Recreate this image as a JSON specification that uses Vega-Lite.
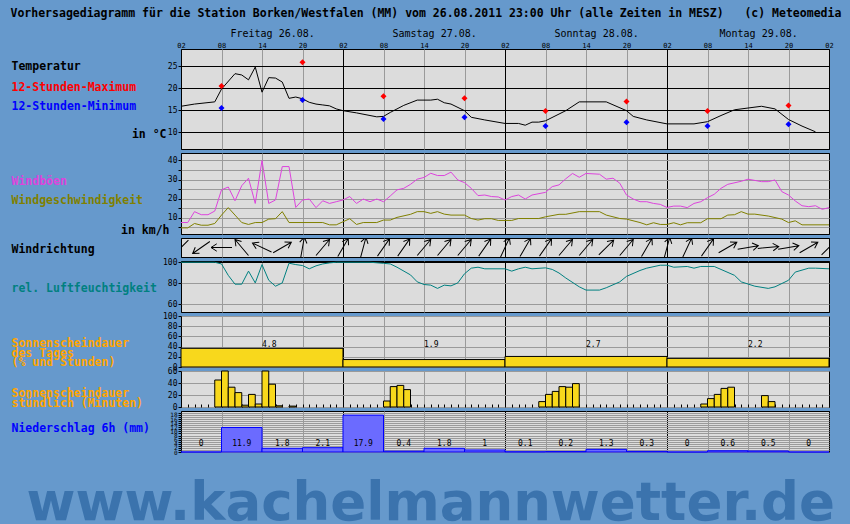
{
"$schema": "https://vega.github.io/schema/vega-lite/v6.json",
"background": "#6699cc",
"padding": {"left": 10, "top": 8, "right": 22, "bottom": 10},
"title": {"text": "Vorhersagediagramm für die Station Borken/Westfalen (MM) vom 26.08.2011 23:00 Uhr (alle Zeiten in MESZ)\u00a0\u00a0\u00a0(c) Meteomedia", "anchor": "start", "font": "DejaVu Sans Mono", "fontSize": 11.5, "fontWeight": "bold", "color": "black", "offset": 8},
"datasets": {
"temperatur": [
{"t":"2011-08-26T02:00Z","v":15.9},{"t":"2011-08-26T04:00Z","v":16.4},{"t":"2011-08-26T07:00Z","v":16.9},{"t":"2011-08-26T08:00Z","v":19.8},{"t":"2011-08-26T10:00Z","v":23.3},{"t":"2011-08-26T11:00Z","v":23.0},{"t":"2011-08-26T12:00Z","v":21.9},{"t":"2011-08-26T13:00Z","v":24.8},{"t":"2011-08-26T14:00Z","v":19.1},{"t":"2011-08-26T15:00Z","v":22.4},{"t":"2011-08-26T16:00Z","v":22.3},{"t":"2011-08-26T17:00Z","v":21.4},{"t":"2011-08-26T18:00Z","v":17.7},{"t":"2011-08-26T19:00Z","v":18.0},{"t":"2011-08-26T20:00Z","v":17.6},{"t":"2011-08-26T21:00Z","v":16.8},{"t":"2011-08-26T22:00Z","v":16.4},{"t":"2011-08-26T23:00Z","v":16.2},{"t":"2011-08-27T00:00Z","v":16.0},{"t":"2011-08-27T01:00Z","v":15.3},{"t":"2011-08-27T02:00Z","v":14.9},{"t":"2011-08-27T04:00Z","v":14.4},{"t":"2011-08-27T07:00Z","v":13.5},{"t":"2011-08-27T08:00Z","v":13.6},{"t":"2011-08-27T09:00Z","v":14.5},{"t":"2011-08-27T11:00Z","v":16.1},{"t":"2011-08-27T13:00Z","v":17.3},{"t":"2011-08-27T15:00Z","v":17.3},{"t":"2011-08-27T16:00Z","v":17.5},{"t":"2011-08-27T17:00Z","v":16.7},{"t":"2011-08-27T18:00Z","v":16.4},{"t":"2011-08-27T20:00Z","v":14.9},{"t":"2011-08-27T21:00Z","v":13.4},{"t":"2011-08-27T23:00Z","v":12.8},{"t":"2011-08-28T02:00Z","v":12.0},{"t":"2011-08-28T04:00Z","v":12.0},{"t":"2011-08-28T05:00Z","v":11.6},{"t":"2011-08-28T06:00Z","v":12.3},{"t":"2011-08-28T07:00Z","v":12.3},{"t":"2011-08-28T08:00Z","v":12.6},{"t":"2011-08-28T11:00Z","v":14.9},{"t":"2011-08-28T13:00Z","v":16.9},{"t":"2011-08-28T17:00Z","v":16.9},{"t":"2011-08-28T20:00Z","v":14.9},{"t":"2011-08-28T21:00Z","v":13.6},{"t":"2011-08-28T23:00Z","v":12.8},{"t":"2011-08-29T02:00Z","v":11.9},{"t":"2011-08-29T06:00Z","v":11.9},{"t":"2011-08-29T08:00Z","v":12.4},{"t":"2011-08-29T10:00Z","v":13.8},{"t":"2011-08-29T12:00Z","v":15.1},{"t":"2011-08-29T14:00Z","v":15.5},{"t":"2011-08-29T16:00Z","v":15.9},{"t":"2011-08-29T18:00Z","v":15.3},{"t":"2011-08-29T20:00Z","v":12.9},{"t":"2011-08-29T22:00Z","v":11.4},{"t":"2011-08-30T00:00Z","v":10.1}
],
"extreme": [
{"t":"2011-08-26T08:00Z","max":20.5,"min":15.5},{"t":"2011-08-26T20:00Z","max":25.9,"min":17.3},{"t":"2011-08-27T08:00Z","max":18.2,"min":13.0},{"t":"2011-08-27T20:00Z","max":17.7,"min":13.4},{"t":"2011-08-28T08:00Z","max":14.8,"min":11.4},{"t":"2011-08-28T20:00Z","max":17.0,"min":12.3},{"t":"2011-08-29T08:00Z","max":14.8,"min":11.4},{"t":"2011-08-29T20:00Z","max":16.1,"min":11.8}
],
"boeen": [
{"t":"2011-08-26T02:00Z","v":7.5},{"t":"2011-08-26T03:00Z","v":7.5},{"t":"2011-08-26T04:00Z","v":13.2},{"t":"2011-08-26T05:00Z","v":11.6},{"t":"2011-08-26T06:00Z","v":11.6},{"t":"2011-08-26T07:00Z","v":13.5},{"t":"2011-08-26T08:00Z","v":24.6},{"t":"2011-08-26T09:00Z","v":26.1},{"t":"2011-08-26T10:00Z","v":18.9},{"t":"2011-08-26T11:00Z","v":26.8},{"t":"2011-08-26T12:00Z","v":30.7},{"t":"2011-08-26T13:00Z","v":17.5},{"t":"2011-08-26T14:00Z","v":40},{"t":"2011-08-26T15:00Z","v":17.5},{"t":"2011-08-26T16:00Z","v":19.3},{"t":"2011-08-26T17:00Z","v":36.8},{"t":"2011-08-26T18:00Z","v":36.8},{"t":"2011-08-26T19:00Z","v":15.4},{"t":"2011-08-26T20:00Z","v":19.3},{"t":"2011-08-26T21:00Z","v":19.8},{"t":"2011-08-26T22:00Z","v":15.3},{"t":"2011-08-26T23:00Z","v":18.9},{"t":"2011-08-27T00:00Z","v":17.5},{"t":"2011-08-27T01:00Z","v":18.4},{"t":"2011-08-27T02:00Z","v":19.3},{"t":"2011-08-27T03:00Z","v":21.1},{"t":"2011-08-27T04:00Z","v":17.5},{"t":"2011-08-27T05:00Z","v":19.8},{"t":"2011-08-27T06:00Z","v":18.4},{"t":"2011-08-27T07:00Z","v":19.8},{"t":"2011-08-27T08:00Z","v":18.4},{"t":"2011-08-27T09:00Z","v":21.4},{"t":"2011-08-27T10:00Z","v":24.6},{"t":"2011-08-27T11:00Z","v":25.4},{"t":"2011-08-27T12:00Z","v":27.5},{"t":"2011-08-27T13:00Z","v":30.2},{"t":"2011-08-27T14:00Z","v":31.1},{"t":"2011-08-27T15:00Z","v":33.3},{"t":"2011-08-27T16:00Z","v":32.1},{"t":"2011-08-27T17:00Z","v":32.1},{"t":"2011-08-27T18:00Z","v":33.9},{"t":"2011-08-27T19:00Z","v":29.8},{"t":"2011-08-27T20:00Z","v":28.4},{"t":"2011-08-27T21:00Z","v":25.4},{"t":"2011-08-27T22:00Z","v":21.6},{"t":"2011-08-27T23:00Z","v":21.9},{"t":"2011-08-28T00:00Z","v":21.1},{"t":"2011-08-28T01:00Z","v":20.9},{"t":"2011-08-28T02:00Z","v":19.3},{"t":"2011-08-28T03:00Z","v":21.1},{"t":"2011-08-28T04:00Z","v":21.9},{"t":"2011-08-28T05:00Z","v":19.8},{"t":"2011-08-28T06:00Z","v":21.9},{"t":"2011-08-28T08:00Z","v":23.3},{"t":"2011-08-28T09:00Z","v":26.3},{"t":"2011-08-28T10:00Z","v":27.2},{"t":"2011-08-28T11:00Z","v":30.4},{"t":"2011-08-28T12:00Z","v":33.2},{"t":"2011-08-28T13:00Z","v":31.2},{"t":"2011-08-28T14:00Z","v":33.2},{"t":"2011-08-28T16:00Z","v":32.8},{"t":"2011-08-28T17:00Z","v":30.2},{"t":"2011-08-28T18:00Z","v":30.7},{"t":"2011-08-28T19:00Z","v":28.1},{"t":"2011-08-28T20:00Z","v":21.9},{"t":"2011-08-28T21:00Z","v":19.8},{"t":"2011-08-28T22:00Z","v":18.4},{"t":"2011-08-28T23:00Z","v":18.4},{"t":"2011-08-29T00:00Z","v":17.5},{"t":"2011-08-29T01:00Z","v":17.0},{"t":"2011-08-29T02:00Z","v":15.4},{"t":"2011-08-29T03:00Z","v":16.1},{"t":"2011-08-29T04:00Z","v":16.1},{"t":"2011-08-29T05:00Z","v":15.3},{"t":"2011-08-29T06:00Z","v":17.5},{"t":"2011-08-29T07:00Z","v":18.4},{"t":"2011-08-29T08:00Z","v":20.5},{"t":"2011-08-29T09:00Z","v":22.3},{"t":"2011-08-29T10:00Z","v":25.4},{"t":"2011-08-29T11:00Z","v":27.5},{"t":"2011-08-29T13:00Z","v":29.1},{"t":"2011-08-29T14:00Z","v":30.2},{"t":"2011-08-29T16:00Z","v":28.9},{"t":"2011-08-29T17:00Z","v":28.9},{"t":"2011-08-29T18:00Z","v":29.8},{"t":"2011-08-29T19:00Z","v":23.7},{"t":"2011-08-29T20:00Z","v":21.9},{"t":"2011-08-29T21:00Z","v":18.8},{"t":"2011-08-29T22:00Z","v":16.3},{"t":"2011-08-29T23:00Z","v":15.8},{"t":"2011-08-30T00:00Z","v":16.3},{"t":"2011-08-30T01:00Z","v":14.4},{"t":"2011-08-30T02:00Z","v":15.3}
],
"wind": [
{"t":"2011-08-26T02:00Z","v":4.7},{"t":"2011-08-26T03:00Z","v":4.7},{"t":"2011-08-26T04:00Z","v":7.0},{"t":"2011-08-26T05:00Z","v":6.1},{"t":"2011-08-26T06:00Z","v":6.1},{"t":"2011-08-26T07:00Z","v":7.0},{"t":"2011-08-26T08:00Z","v":11.4},{"t":"2011-08-26T09:00Z","v":15.3},{"t":"2011-08-26T10:00Z","v":11.4},{"t":"2011-08-26T11:00Z","v":7.5},{"t":"2011-08-26T12:00Z","v":6.5},{"t":"2011-08-26T13:00Z","v":7.5},{"t":"2011-08-26T14:00Z","v":7.5},{"t":"2011-08-26T15:00Z","v":9.3},{"t":"2011-08-26T16:00Z","v":9.5},{"t":"2011-08-26T17:00Z","v":13.2},{"t":"2011-08-26T18:00Z","v":7.5},{"t":"2011-08-26T23:00Z","v":7.5},{"t":"2011-08-27T00:00Z","v":6.3},{"t":"2011-08-27T01:00Z","v":6.3},{"t":"2011-08-27T02:00Z","v":7.9},{"t":"2011-08-27T03:00Z","v":9.5},{"t":"2011-08-27T04:00Z","v":6.5},{"t":"2011-08-27T05:00Z","v":7.5},{"t":"2011-08-27T07:00Z","v":7.5},{"t":"2011-08-27T08:00Z","v":8.8},{"t":"2011-08-27T09:00Z","v":8.8},{"t":"2011-08-27T10:00Z","v":10.2},{"t":"2011-08-27T12:00Z","v":11.8},{"t":"2011-08-27T13:00Z","v":13.2},{"t":"2011-08-27T14:00Z","v":13.2},{"t":"2011-08-27T15:00Z","v":12.3},{"t":"2011-08-27T16:00Z","v":13.2},{"t":"2011-08-27T17:00Z","v":11.9},{"t":"2011-08-27T18:00Z","v":11.4},{"t":"2011-08-27T20:00Z","v":11.4},{"t":"2011-08-27T21:00Z","v":9.6},{"t":"2011-08-27T22:00Z","v":8.8},{"t":"2011-08-27T23:00Z","v":9.5},{"t":"2011-08-28T00:00Z","v":9.5},{"t":"2011-08-28T01:00Z","v":8.6},{"t":"2011-08-28T03:00Z","v":8.6},{"t":"2011-08-28T04:00Z","v":9.6},{"t":"2011-08-28T07:00Z","v":9.6},{"t":"2011-08-28T08:00Z","v":10.5},{"t":"2011-08-28T10:00Z","v":11.8},{"t":"2011-08-28T11:00Z","v":11.8},{"t":"2011-08-28T13:00Z","v":13.2},{"t":"2011-08-28T16:00Z","v":13.2},{"t":"2011-08-28T17:00Z","v":11.4},{"t":"2011-08-28T19:00Z","v":9.6},{"t":"2011-08-28T20:00Z","v":9.3},{"t":"2011-08-28T22:00Z","v":7.5},{"t":"2011-08-28T23:00Z","v":6.3},{"t":"2011-08-29T00:00Z","v":7.4},{"t":"2011-08-29T01:00Z","v":6.5},{"t":"2011-08-29T02:00Z","v":6.5},{"t":"2011-08-29T03:00Z","v":7.4},{"t":"2011-08-29T04:00Z","v":6.3},{"t":"2011-08-29T05:00Z","v":7.4},{"t":"2011-08-29T07:00Z","v":7.4},{"t":"2011-08-29T08:00Z","v":9.5},{"t":"2011-08-29T10:00Z","v":9.5},{"t":"2011-08-29T11:00Z","v":11.4},{"t":"2011-08-29T12:00Z","v":11.6},{"t":"2011-08-29T13:00Z","v":13.2},{"t":"2011-08-29T14:00Z","v":11.9},{"t":"2011-08-29T15:00Z","v":11.9},{"t":"2011-08-29T17:00Z","v":10.9},{"t":"2011-08-29T19:00Z","v":9.3},{"t":"2011-08-29T20:00Z","v":7.5},{"t":"2011-08-29T21:00Z","v":8.4},{"t":"2011-08-29T22:00Z","v":6.3},{"t":"2011-08-30T02:00Z","v":6.3}
],
"richtung": [
{"t":"2011-08-26T02:00Z","dir":45},{"t":"2011-08-26T05:00Z","dir":55},{"t":"2011-08-26T08:00Z","dir":90},{"t":"2011-08-26T11:00Z","dir":140},{"t":"2011-08-26T14:00Z","dir":115},{"t":"2011-08-26T17:00Z","dir":240},{"t":"2011-08-26T20:00Z","dir":190},{"t":"2011-08-26T23:00Z","dir":220},{"t":"2011-08-27T02:00Z","dir":210},{"t":"2011-08-27T05:00Z","dir":195},{"t":"2011-08-27T08:00Z","dir":215},{"t":"2011-08-27T11:00Z","dir":215},{"t":"2011-08-27T14:00Z","dir":220},{"t":"2011-08-27T17:00Z","dir":220},{"t":"2011-08-27T20:00Z","dir":220},{"t":"2011-08-27T23:00Z","dir":215},{"t":"2011-08-28T02:00Z","dir":205},{"t":"2011-08-28T05:00Z","dir":210},{"t":"2011-08-28T08:00Z","dir":215},{"t":"2011-08-28T11:00Z","dir":220},{"t":"2011-08-28T14:00Z","dir":220},{"t":"2011-08-28T17:00Z","dir":225},{"t":"2011-08-28T20:00Z","dir":220},{"t":"2011-08-28T23:00Z","dir":210},{"t":"2011-08-29T02:00Z","dir":195},{"t":"2011-08-29T05:00Z","dir":205},{"t":"2011-08-29T08:00Z","dir":215},{"t":"2011-08-29T11:00Z","dir":240},{"t":"2011-08-29T14:00Z","dir":260},{"t":"2011-08-29T17:00Z","dir":265},{"t":"2011-08-29T20:00Z","dir":260},{"t":"2011-08-29T23:00Z","dir":240},{"t":"2011-08-30T02:00Z","dir":225}
],
"feuchte": [
{"t":"2011-08-26T02:00Z","v":100},{"t":"2011-08-26T07:00Z","v":100},{"t":"2011-08-26T08:00Z","v":98.4},{"t":"2011-08-26T09:00Z","v":87.6},{"t":"2011-08-26T10:00Z","v":79.2},{"t":"2011-08-26T11:00Z","v":79.2},{"t":"2011-08-26T12:00Z","v":91.6},{"t":"2011-08-26T13:00Z","v":80.4},{"t":"2011-08-26T14:00Z","v":97.8},{"t":"2011-08-26T15:00Z","v":82.9},{"t":"2011-08-26T16:00Z","v":77.3},{"t":"2011-08-26T17:00Z","v":80.4},{"t":"2011-08-26T18:00Z","v":99.1},{"t":"2011-08-26T19:00Z","v":97.8},{"t":"2011-08-26T20:00Z","v":96.9},{"t":"2011-08-26T21:00Z","v":93.8},{"t":"2011-08-26T22:00Z","v":96.6},{"t":"2011-08-26T23:00Z","v":98.4},{"t":"2011-08-27T00:00Z","v":99.4},{"t":"2011-08-27T01:00Z","v":100},{"t":"2011-08-27T06:00Z","v":100},{"t":"2011-08-27T08:00Z","v":99},{"t":"2011-08-27T09:00Z","v":98.4},{"t":"2011-08-27T10:00Z","v":95.3},{"t":"2011-08-27T12:00Z","v":88},{"t":"2011-08-27T13:00Z","v":81.4},{"t":"2011-08-27T14:00Z","v":78.9},{"t":"2011-08-27T15:00Z","v":78.3},{"t":"2011-08-27T16:00Z","v":75.2},{"t":"2011-08-27T17:00Z","v":78.3},{"t":"2011-08-27T18:00Z","v":77.6},{"t":"2011-08-27T19:00Z","v":80.4},{"t":"2011-08-27T20:00Z","v":89.1},{"t":"2011-08-27T21:00Z","v":94.4},{"t":"2011-08-27T22:00Z","v":95.3},{"t":"2011-08-27T23:00Z","v":93.8},{"t":"2011-08-28T02:00Z","v":93.8},{"t":"2011-08-28T03:00Z","v":91.6},{"t":"2011-08-28T04:00Z","v":93.8},{"t":"2011-08-28T05:00Z","v":95.3},{"t":"2011-08-28T06:00Z","v":93.8},{"t":"2011-08-28T08:00Z","v":94.7},{"t":"2011-08-28T09:00Z","v":93.2},{"t":"2011-08-28T10:00Z","v":89.8},{"t":"2011-08-28T11:00Z","v":85.1},{"t":"2011-08-28T13:00Z","v":76.7},{"t":"2011-08-28T14:00Z","v":73.6},{"t":"2011-08-28T16:00Z","v":73.6},{"t":"2011-08-28T17:00Z","v":75.8},{"t":"2011-08-28T19:00Z","v":81.4},{"t":"2011-08-28T20:00Z","v":86.6},{"t":"2011-08-28T22:00Z","v":92.2},{"t":"2011-08-28T23:00Z","v":94.4},{"t":"2011-08-29T01:00Z","v":97.2},{"t":"2011-08-29T02:00Z","v":97.2},{"t":"2011-08-29T03:00Z","v":95.3},{"t":"2011-08-29T05:00Z","v":96.0},{"t":"2011-08-29T06:00Z","v":94.4},{"t":"2011-08-29T07:00Z","v":96.0},{"t":"2011-08-29T09:00Z","v":96.0},{"t":"2011-08-29T10:00Z","v":93.2},{"t":"2011-08-29T12:00Z","v":87.6},{"t":"2011-08-29T13:00Z","v":81.4},{"t":"2011-08-29T15:00Z","v":77.3},{"t":"2011-08-29T17:00Z","v":75.2},{"t":"2011-08-29T18:00Z","v":76.7},{"t":"2011-08-29T20:00Z","v":82.9},{"t":"2011-08-29T21:00Z","v":90.7},{"t":"2011-08-29T23:00Z","v":94.4},{"t":"2011-08-30T00:00Z","v":94.4},{"t":"2011-08-30T02:00Z","v":93.8}
],
"sonne_tag": [
{"von":"2011-08-26T02:00Z","bis":"2011-08-27T02:00Z","pct":36.6,"std":4.8},{"von":"2011-08-27T02:00Z","bis":"2011-08-28T02:00Z","pct":14.6,"std":1.9},{"von":"2011-08-28T02:00Z","bis":"2011-08-29T02:00Z","pct":20.7,"std":2.7},{"von":"2011-08-29T02:00Z","bis":"2011-08-30T02:00Z","pct":16.9,"std":2.2}
],
"sonne_std": [
{"von":"2011-08-26T07:00Z","bis":"2011-08-26T08:00Z","min":45},{"von":"2011-08-26T08:00Z","bis":"2011-08-26T09:00Z","min":60},{"von":"2011-08-26T09:00Z","bis":"2011-08-26T10:00Z","min":33},{"von":"2011-08-26T10:00Z","bis":"2011-08-26T11:00Z","min":24},{"von":"2011-08-26T11:00Z","bis":"2011-08-26T12:00Z","min":3},{"von":"2011-08-26T12:00Z","bis":"2011-08-26T13:00Z","min":21},{"von":"2011-08-26T13:00Z","bis":"2011-08-26T14:00Z","min":5},{"von":"2011-08-26T14:00Z","bis":"2011-08-26T15:00Z","min":60},{"von":"2011-08-26T15:00Z","bis":"2011-08-26T16:00Z","min":38},{"von":"2011-08-26T16:00Z","bis":"2011-08-26T17:00Z","min":2},{"von":"2011-08-26T18:00Z","bis":"2011-08-26T19:00Z","min":1.5},
{"von":"2011-08-27T08:00Z","bis":"2011-08-27T09:00Z","min":10},{"von":"2011-08-27T09:00Z","bis":"2011-08-27T10:00Z","min":34},{"von":"2011-08-27T10:00Z","bis":"2011-08-27T11:00Z","min":36},{"von":"2011-08-27T11:00Z","bis":"2011-08-27T12:00Z","min":29},
{"von":"2011-08-28T07:00Z","bis":"2011-08-28T08:00Z","min":9},{"von":"2011-08-28T08:00Z","bis":"2011-08-28T09:00Z","min":21},{"von":"2011-08-28T09:00Z","bis":"2011-08-28T10:00Z","min":26},{"von":"2011-08-28T10:00Z","bis":"2011-08-28T11:00Z","min":34},{"von":"2011-08-28T11:00Z","bis":"2011-08-28T12:00Z","min":33},{"von":"2011-08-28T12:00Z","bis":"2011-08-28T13:00Z","min":39},
{"von":"2011-08-29T07:00Z","bis":"2011-08-29T08:00Z","min":5},{"von":"2011-08-29T08:00Z","bis":"2011-08-29T09:00Z","min":14},{"von":"2011-08-29T09:00Z","bis":"2011-08-29T10:00Z","min":21},{"von":"2011-08-29T10:00Z","bis":"2011-08-29T11:00Z","min":31},{"von":"2011-08-29T11:00Z","bis":"2011-08-29T12:00Z","min":33},{"von":"2011-08-29T16:00Z","bis":"2011-08-29T17:00Z","min":19},{"von":"2011-08-29T17:00Z","bis":"2011-08-29T18:00Z","min":9}
],
"niederschlag": [
{"von":"2011-08-26T02:00Z","bis":"2011-08-26T08:00Z","mm":0},{"von":"2011-08-26T08:00Z","bis":"2011-08-26T14:00Z","mm":11.9},{"von":"2011-08-26T14:00Z","bis":"2011-08-26T20:00Z","mm":1.8},{"von":"2011-08-26T20:00Z","bis":"2011-08-27T02:00Z","mm":2.1},{"von":"2011-08-27T02:00Z","bis":"2011-08-27T08:00Z","mm":17.9},{"von":"2011-08-27T08:00Z","bis":"2011-08-27T14:00Z","mm":0.4},{"von":"2011-08-27T14:00Z","bis":"2011-08-27T20:00Z","mm":1.8},{"von":"2011-08-27T20:00Z","bis":"2011-08-28T02:00Z","mm":1},{"von":"2011-08-28T02:00Z","bis":"2011-08-28T08:00Z","mm":0.1},{"von":"2011-08-28T08:00Z","bis":"2011-08-28T14:00Z","mm":0.2},{"von":"2011-08-28T14:00Z","bis":"2011-08-28T20:00Z","mm":1.3},{"von":"2011-08-28T20:00Z","bis":"2011-08-29T02:00Z","mm":0.3},{"von":"2011-08-29T02:00Z","bis":"2011-08-29T08:00Z","mm":0},{"von":"2011-08-29T08:00Z","bis":"2011-08-29T14:00Z","mm":0.6},{"von":"2011-08-29T14:00Z","bis":"2011-08-29T20:00Z","mm":0.5},{"von":"2011-08-29T20:00Z","bis":"2011-08-30T02:00Z","mm":0}
]
},
"spacing": 4,
"bounds": "flush",
"vconcat": [
{
 "width": 648, "height": 100,
 "layer": [
  {"data": {"name": "temperatur"},
   "mark": {"type": "line", "color": "black", "strokeWidth": 1},
   "encoding": {
    "x": {"field": "t", "type": "temporal", "scale": {"type": "utc", "domain": [1314324000000, 1314669600000]},
          "axis": {"orient": "top", "values": [1314324000000,1314345600000,1314367200000,1314388800000,1314410400000,1314432000000,1314453600000,1314475200000,1314496800000,1314518400000,1314540000000,1314561600000,1314583200000,1314604800000,1314626400000,1314648000000,1314669600000], "labelExpr": "utcFormat(datum.value, '%H')", "labelFontSize": 7, "labelPadding": 1, "ticks": false, "labelOverlap": false, "grid": true, "gridColor": {"condition": {"test": "utchours(datum.value) == 2", "value": "black"}, "value": "#9a9a9a"}, "title": "in °C", "titleX": -15, "titleY": 85, "titleAlign": "right"}},
    "y": {"field": "v", "type": "quantitative", "scale": {"domain": [6.2, 28.9], "nice": false, "zero": false},
          "axis": {"values": [10, 15, 20, 25], "tickSize": 3, "labelPadding": 1, "grid": true, "gridColor": "black", "title": "Temperatur", "titleX": -170, "titleY": 17}}
   }},
  {"data": {"name": "extreme"},
   "mark": {"type": "point", "shape": "diamond", "filled": true, "color": "#ff0000", "size": 36, "opacity": 1},
   "encoding": {
    "x": {"field": "t", "type": "temporal", "scale": {"type": "utc", "domain": [1314324000000, 1314669600000]},
          "axis": {"orient": "top", "values": [1314372600000, 1314459000000, 1314545400000, 1314631800000], "labelExpr": "['Sonntag','Montag','Dienstag','Mittwoch','Donnerstag','Freitag','Samstag'][utcday(datum.value)] + ' ' + utcFormat(datum.value, '%d.%m.')", "labelFontSize": 10, "ticks": false, "grid": false, "offset": 9, "labelPadding": 2, "title": null}},
    "y": {"field": "max", "type": "quantitative", "scale": {"domain": [6.2, 28.9], "nice": false, "zero": false},
          "axis": {"orient": "left", "labels": false, "ticks": false, "grid": false, "title": "12-Stunden-Maximum", "titleColor": "#ff0000", "titleX": -170, "titleY": 38}}
   }},
  {"data": {"name": "extreme"},
   "mark": {"type": "point", "shape": "diamond", "filled": true, "color": "#0000ff", "size": 36, "opacity": 1},
   "encoding": {
    "x": {"field": "t", "type": "temporal", "scale": {"type": "utc", "domain": [1314324000000, 1314669600000]}, "axis": null},
    "y": {"field": "min", "type": "quantitative", "scale": {"domain": [6.2, 28.9], "nice": false, "zero": false},
          "axis": {"orient": "left", "labels": false, "ticks": false, "grid": false, "title": "12-Stunden-Minimum", "titleColor": "#0000ff", "titleX": -170, "titleY": 57}}
   }}
 ],
 "resolve": {"axis": {"x": "independent", "y": "independent"}}
},
{
 "width": 648, "height": 81,
 "layer": [
  {"data": {"name": "boeen"},
   "mark": {"type": "line", "color": "#dd44dd", "strokeWidth": 1},
   "encoding": {
    "x": {"field": "t", "type": "temporal", "scale": {"type": "utc", "domain": [1314324000000, 1314669600000]},
          "axis": {"values": [1314324000000,1314345600000,1314367200000,1314388800000,1314410400000,1314432000000,1314453600000,1314475200000,1314496800000,1314518400000,1314540000000,1314561600000,1314583200000,1314604800000,1314626400000,1314648000000,1314669600000], "labels": false, "ticks": false, "grid": true, "gridColor": {"condition": {"test": "utchours(datum.value) == 2", "value": "black"}, "value": "#9a9a9a"}, "title": "in km/h", "titleX": -12, "titleY": -3.5, "titleAlign": "right"}},
    "y": {"field": "v", "type": "quantitative", "scale": {"domain": [1.5, 43.9], "nice": false, "zero": false},
          "axis": {"values": [5, 10, 15, 20, 25, 30, 35, 40], "labelExpr": "datum.value % 10 == 0 ? datum.label : ''", "tickSize": 3, "labelPadding": 1, "grid": true, "title": "Windböen", "titleColor": "#dd44dd", "titleX": -170, "titleY": 28.5}}
   }},
  {"data": {"name": "wind"},
   "mark": {"type": "line", "color": "#808000", "strokeWidth": 1},
   "encoding": {
    "x": {"field": "t", "type": "temporal", "scale": {"type": "utc", "domain": [1314324000000, 1314669600000]}, "axis": null},
    "y": {"field": "v", "type": "quantitative", "scale": {"domain": [1.5, 43.9], "nice": false, "zero": false},
          "axis": {"orient": "left", "labels": false, "ticks": false, "grid": false, "title": "Windgeschwindigkeit", "titleColor": "#808000", "titleX": -170, "titleY": 47.5}}
   }}
 ],
 "resolve": {"axis": {"x": "independent", "y": "independent"}}
},
{
 "width": 648, "height": 19,
 "data": {"name": "richtung"},
 "mark": {"type": "point", "shape": "M0,-1L0,1M-0.35,0.45L0,1L0.35,0.45", "filled": false, "stroke": "black", "strokeWidth": 1, "size": 441, "opacity": 1, "clip": true},
 "encoding": {
  "x": {"field": "t", "type": "temporal", "scale": {"type": "utc", "domain": [1314324000000, 1314669600000]},
        "axis": {"values": [1314324000000,1314345600000,1314367200000,1314388800000,1314410400000,1314432000000,1314453600000,1314475200000,1314496800000,1314518400000,1314540000000,1314561600000,1314583200000,1314604800000,1314626400000,1314648000000,1314669600000], "labels": false, "ticks": false, "grid": true, "gridColor": {"condition": {"test": "utchours(datum.value) == 2", "value": "black"}, "value": "#9a9a9a"}, "title": "Windrichtung", "titleX": -170, "titleY": -8}},
  "angle": {"field": "dir", "type": "quantitative", "scale": null}
 }
},
{
 "width": 648, "height": 51,
 "data": {"name": "feuchte"},
 "mark": {"type": "line", "color": "#008080", "strokeWidth": 1},
 "encoding": {
  "x": {"field": "t", "type": "temporal", "scale": {"type": "utc", "domain": [1314324000000, 1314669600000]},
        "axis": {"values": [1314324000000,1314345600000,1314367200000,1314388800000,1314410400000,1314432000000,1314453600000,1314475200000,1314496800000,1314518400000,1314540000000,1314561600000,1314583200000,1314604800000,1314626400000,1314648000000,1314669600000], "labels": false, "ticks": false, "grid": true, "gridColor": {"condition": {"test": "utchours(datum.value) == 2", "value": "black"}, "value": "#9a9a9a"}, "title": null}},
  "y": {"field": "v", "type": "quantitative", "scale": {"domain": [52.8, 101.2], "nice": false, "zero": false},
        "axis": {"values": [60, 80, 100], "tickSize": 3, "labelPadding": 1, "grid": true, "gridColor": {"condition": {"test": "datum.value == 100", "value": "black"}, "value": "#9a9a9a"}, "title": "rel. Luftfeuchtigkeit", "titleColor": "#008080", "titleX": -170, "titleY": 27.5}}
 }
},
{
 "width": 648, "height": 51,
 "layer": [
  {"data": {"name": "sonne_tag"},
   "mark": {"type": "bar", "fill": "#f8d81c", "stroke": "black", "strokeWidth": 1},
   "encoding": {
    "x": {"field": "von", "type": "temporal", "scale": {"type": "utc", "domain": [1314324000000, 1314669600000]},
          "axis": {"values": [1314324000000,1314345600000,1314367200000,1314388800000,1314410400000,1314432000000,1314453600000,1314475200000,1314496800000,1314518400000,1314540000000,1314561600000,1314583200000,1314604800000,1314626400000,1314648000000,1314669600000], "labels": false, "ticks": false, "grid": true, "gridColor": {"condition": {"test": "utchours(datum.value) == 2", "value": "black"}, "value": "#9a9a9a"}, "title": null}},
    "x2": {"field": "bis"},
    "y": {"field": "pct", "type": "quantitative", "scale": {"domain": [0, 100], "nice": false},
          "axis": {"values": [0, 20, 40, 60, 80, 100], "tickSize": 3, "labelPadding": 1, "grid": true, "title": ["Sonnenscheindauer", "des Tages", "(% und Stunden)"], "titleLineHeight": 9.7, "titleColor": "#ffa500", "titleX": -170, "titleY": 27.5}},
    "y2": {"datum": 0}
   }},
  {"data": {"name": "sonne_tag"},
   "mark": {"type": "text", "align": "left", "baseline": "middle", "dx": 81, "font": "DejaVu Sans Mono", "fontSize": 8, "color": "black"},
   "encoding": {
    "x": {"field": "von", "type": "temporal", "scale": {"type": "utc", "domain": [1314324000000, 1314669600000]}, "axis": null},
    "y": {"datum": 43, "type": "quantitative", "axis": null},
    "text": {"field": "std", "type": "quantitative"}
   }}
 ],
 "resolve": {"axis": {"x": "independent", "y": "independent"}}
},
{
 "width": 648, "height": 36,
 "layer": [
  {"data": {"name": "sonne_std"},
   "mark": {"type": "bar", "fill": "#f8d81c", "stroke": "black", "strokeWidth": 1},
   "encoding": {
    "x": {"field": "von", "type": "temporal", "scale": {"type": "utc", "domain": [1314324000000, 1314669600000]},
          "axis": {"values": [1314324000000,1314345600000,1314367200000,1314388800000,1314410400000,1314432000000,1314453600000,1314475200000,1314496800000,1314518400000,1314540000000,1314561600000,1314583200000,1314604800000,1314626400000,1314648000000,1314669600000], "labels": false, "ticks": false, "grid": true, "gridColor": {"condition": {"test": "utchours(datum.value) == 2", "value": "black"}, "value": "#9a9a9a"}, "title": null}},
    "x2": {"field": "bis"},
    "y": {"field": "min", "type": "quantitative", "scale": {"domain": [0, 60], "nice": false},
          "axis": {"values": [0, 20, 40, 60], "tickSize": 3, "labelPadding": 1, "grid": true, "title": ["Sonnenscheindauer", "stündlich (Minuten)"], "titleLineHeight": 9.7, "titleColor": "#ffa500", "titleX": -170, "titleY": 22.5}},
    "y2": {"datum": 0}
   }},
  {"data": {"name": "sonne_std"},
   "mark": {"type": "bar", "opacity": 0},
   "encoding": {
    "x": {"field": "von", "type": "temporal", "scale": {"type": "utc", "domain": [1314324000000, 1314669600000]},
          "axis": {"orient": "bottom", "tickCount": 96, "labels": false, "ticks": true, "tickSize": 3, "tickColor": "black", "offset": -3, "grid": false, "title": null}},
    "x2": {"field": "bis"},
    "y": {"field": "min", "type": "quantitative", "axis": null},
    "y2": {"datum": 0}
   }}
 ],
 "resolve": {"axis": {"x": "independent", "y": "independent"}}
},
{
 "width": 648, "height": 41,
 "layer": [
  {"data": {"name": "niederschlag"},
   "mark": {"type": "bar", "fill": "#6b6bff", "stroke": "#0000ff", "strokeWidth": 1},
   "encoding": {
    "x": {"field": "von", "type": "temporal", "scale": {"type": "utc", "domain": [1314324000000, 1314669600000]},
          "axis": {"values": [1314324000000,1314345600000,1314367200000,1314388800000,1314410400000,1314432000000,1314453600000,1314475200000,1314496800000,1314518400000,1314540000000,1314561600000,1314583200000,1314604800000,1314626400000,1314648000000,1314669600000], "labels": false, "ticks": false, "grid": true, "gridColor": {"condition": {"test": "utchours(datum.value) == 2", "value": "black"}, "value": "#9a9a9a"}, "title": "www.kachelmannwetter.de", "titleFont": "DejaVu Sans", "titleFontSize": 53, "titleFontWeight": "bold", "titleColor": "#3b73ad", "titleX": -155, "titleY": 67, "titleBaseline": "alphabetic", "titleAlign": "left"}},
    "x2": {"field": "bis"},
    "y": {"field": "mm", "type": "quantitative", "scale": {"domain": [0, 19.9], "nice": false},
          "axis": {"values": [0,1,2,3,4,5,6,7,8,9,10,11,12,13,14,15,16,17,18,19], "labelExpr": "datum.value % 2 == 0 ? datum.label : ''", "labelFontSize": 6, "labelOverlap": false, "tickSize": 3, "labelPadding": 1, "grid": true, "title": "Niederschlag 6h (mm)", "titleColor": "#0000ff", "titleX": -170, "titleY": 17.5}},
    "y2": {"datum": 0}
   }},
  {"data": {"name": "niederschlag"},
   "mark": {"type": "text", "align": "center", "baseline": "middle", "dx": 20.25, "font": "DejaVu Sans Mono", "fontSize": 8, "color": "black"},
   "encoding": {
    "x": {"field": "von", "type": "temporal", "scale": {"type": "utc", "domain": [1314324000000, 1314669600000]}, "axis": null},
    "y": {"datum": 4, "type": "quantitative", "axis": null},
    "text": {"field": "mm", "type": "quantitative"}
   }}
 ],
 "resolve": {"axis": {"x": "independent", "y": "independent"}}
}
],
"config": {
 "view": {"fill": "#dcdcdc", "stroke": "black", "strokeWidth": 1},
 "axis": {"labelFont": "DejaVu Sans Mono", "labelFontSize": 8, "labelColor": "black", "tickColor": "black", "titleFont": "DejaVu Sans Mono", "titleFontSize": 11.5, "titleFontWeight": "bold", "titleColor": "black", "titleAngle": 0, "titleAlign": "left", "titleBaseline": "middle", "gridColor": "#9a9a9a", "gridOpacity": 1, "gridWidth": 1, "domain": false, "labelFlush": false}
}
}
